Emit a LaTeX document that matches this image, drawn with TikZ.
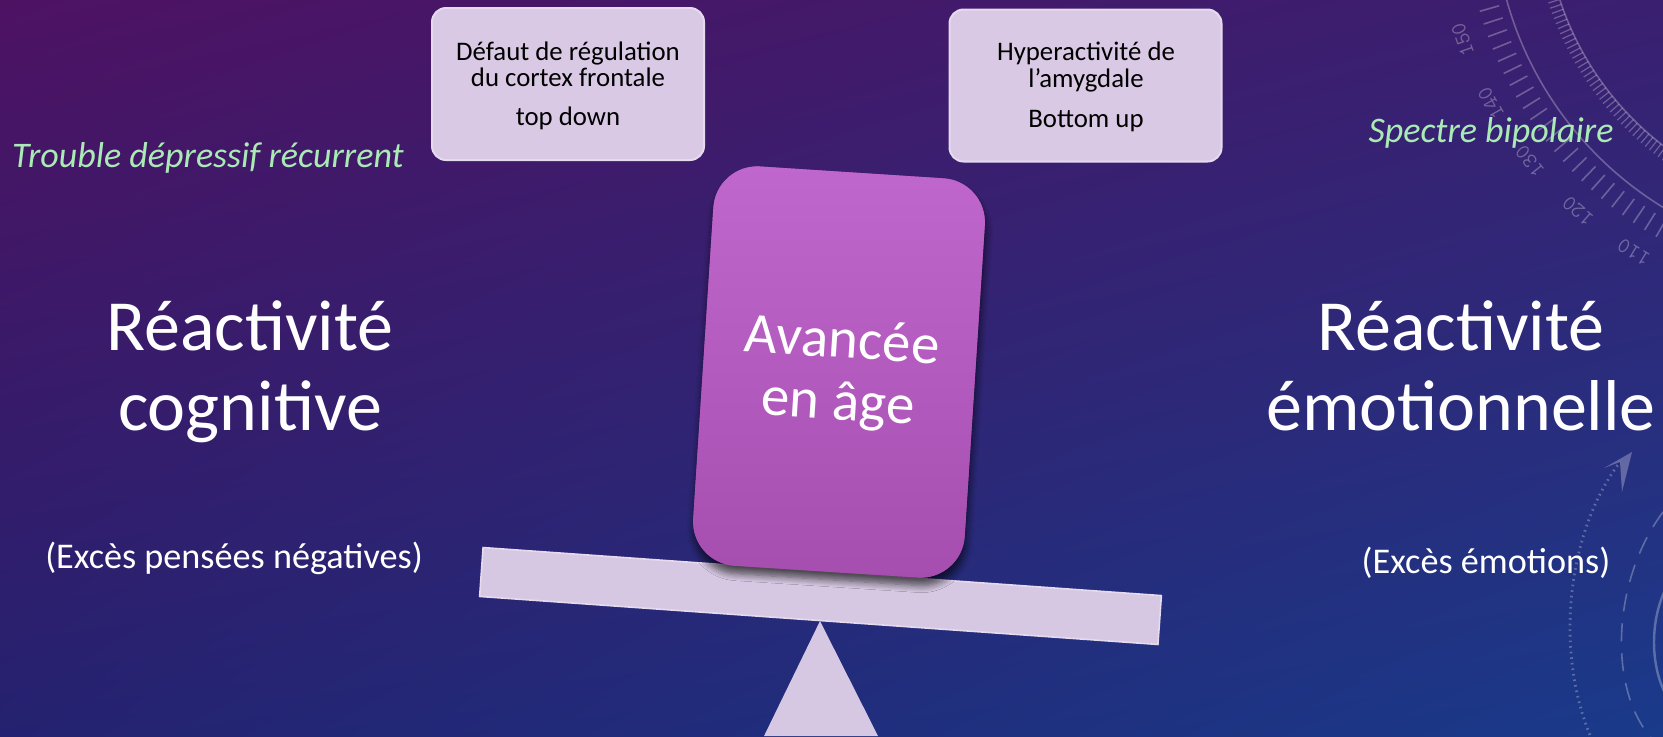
\documentclass[tikz,border=0pt]{standalone}
\usepackage{fontspec}
\setmainfont{Carlito}
\usetikzlibrary{arrows.meta,shadows.blur,calc,shadings}
\definecolor{bgUL}{HTML}{4E1263}
\definecolor{bgUR}{HTML}{3A1F70}
\definecolor{bgLL}{HTML}{242270}
\definecolor{bgLR}{HTML}{1A3A8A}
\definecolor{boxfill}{HTML}{D9C9E4}
\definecolor{boxedge}{HTML}{E6DAEE}
\definecolor{beamfill}{HTML}{D6C8E2}
\definecolor{mint}{HTML}{AAEBB5}
\definecolor{cardtop}{HTML}{C067CD}
\definecolor{cardbot}{HTML}{A54EAF}
\begin{document}
\begin{tikzpicture}[x=0.5pt,y=-0.5pt,
  topbox/.style={draw=boxedge, line width=1pt, fill=boxfill, rounded corners=7pt,
    minimum width=136pt, minimum height=76pt, inner sep=0pt},
  boxtext/.style={anchor=base, text=black, font=\fontsize{13.4}{15}\selectfont, inner sep=0pt},
  greentext/.style={anchor=base, text=mint, font=\itshape\fontsize{18}{20}\selectfont, inner sep=0pt},
  bigtext/.style={anchor=base, text=white, font=\fontsize{36}{40}\selectfont, inner sep=0pt},
  subtext/.style={anchor=base, text=white, font=\fontsize{18.1}{20}\selectfont, inner sep=0pt},
  card/.style={fill=cardbot, top color=cardtop, bottom color=cardbot, rounded corners=22pt,
    minimum width=136pt, minimum height=200pt, inner sep=0pt,
    blur shadow={shadow xshift=0.5pt, shadow yshift=-4pt, shadow blur radius=3.5pt,
      shadow blur steps=8, shadow opacity=65}},
  beam/.style={fill=beamfill, draw=boxedge, line width=0.8pt, minimum width=340pt,
    minimum height=24.5pt, inner sep=0pt},
  decor/.style={draw=white, opacity=0.28, line width=0.8pt},
  decortext/.style={text=white, opacity=0.3, font=\ttfamily\fontsize{11}{11}\selectfont, inner sep=0pt}
]
\useasboundingbox (0,0) rectangle (1663,736);
% background
\shade[upper left=bgUL, upper right=bgUR, lower left=bgLL, lower right=bgLR] (0,0) rectangle (1663,736);
% decorations (clipped)
\begin{scope}
\clip (0,0) rectangle (1663,736);
\coordinate (C) at (1847,-94);
\draw[decor] (C) circle[radius=353];
\draw[decor] (C) circle[radius=302];
\foreach \a in {116,118,...,168} {
  \draw[decor] ($(C)+(\a:362)$) -- ($(C)+(\a:382)$);
}
\foreach \a in {126,127,...,166} {
  \draw[decor, line width=0.6pt] ($(C)+(\a:302)$) -- ($(C)+(\a:314)$);
}
\foreach \n/\a in {150/160.8,140/151,130/141.2,120/131.4,110/121.6} {
  \node[decortext, rotate={270-\a}] (num\n) at ($(C)+(\a:407)$) {\n};
}
\coordinate (d1) at (1592,740);
\coordinate (d2) at (1632,452);
\draw[decor, dotted, line width=1.4pt] (d1) .. controls (1553,650) and (1568,530) .. (1620,462);
\fill[white, opacity=0.28] (d2) -- (1604,468) -- (1620,462) -- (1622,492) -- cycle;
\coordinate (e1) at (1663,512);
\coordinate (e2) at (1653,740);
\draw[decor, dashed, dash pattern=on 9pt off 6pt] (e1) .. controls (1612,580) and (1607,690) .. (e2);
\coordinate (f1) at (1666,588);
\coordinate (f2) at (1666,695);
\draw[decor, line width=1.2pt] (f1) .. controls (1650,620) and (1650,665) .. (f2);
\end{scope}
% top boxes
\node[topbox] (b1) at (568,84) {};
\node[boxtext] (b1l1) at (568,60) {Défaut de régulation};
\node[boxtext] (b1l2) at (568,86) {du cortex frontale};
\node[boxtext] (b1l3) at (568,125) {top down};
\node[topbox] (b2) at (1085.5,85.5) {};
\node[boxtext] (b2l1) at (1086,60) {Hyperactivité de};
\node[boxtext] (b2l2) at (1086,87) {l’amygdale};
\node[boxtext] (b2l3) at (1086,127) {Bottom up};
% green labels
\node[greentext] (tdr) at (208,167) {Trouble dépressif récurrent};
\node[greentext] (sbp) at (1491,142) {Spectre bipolaire};
% big titles
\node[bigtext] (lt1) at (250,350) {Réactivité};
\node[bigtext] (lt2) at (250,430) {cognitive};
\node[bigtext] (rt1) at (1461,350) {Réactivité};
\node[bigtext] (rt2) at (1461,430) {émotionnelle};
\node[subtext] (ls) at (234,568) {(Excès pensées négatives)};
\node[subtext] (rs) at (1486,573) {(Excès émotions)};
% seesaw
\coordinate (apex) at (820,621);
\coordinate (bl) at (764,736);
\coordinate (br) at (878,736);
\fill[beamfill] (apex) -- (bl) -- (br) -- cycle;
\node[beam, rotate=-4.05] (beam) at (820.5,596) {};
\node[card, rotate=-3.7] (card) at (839,372) {};
\node[rotate=-3.7, text=white, align=center, font=\fontsize{28.5}{31}\selectfont, inner sep=0pt] (age) at (840,374) {Avancée\\en âge};
\end{tikzpicture}
\end{document}
